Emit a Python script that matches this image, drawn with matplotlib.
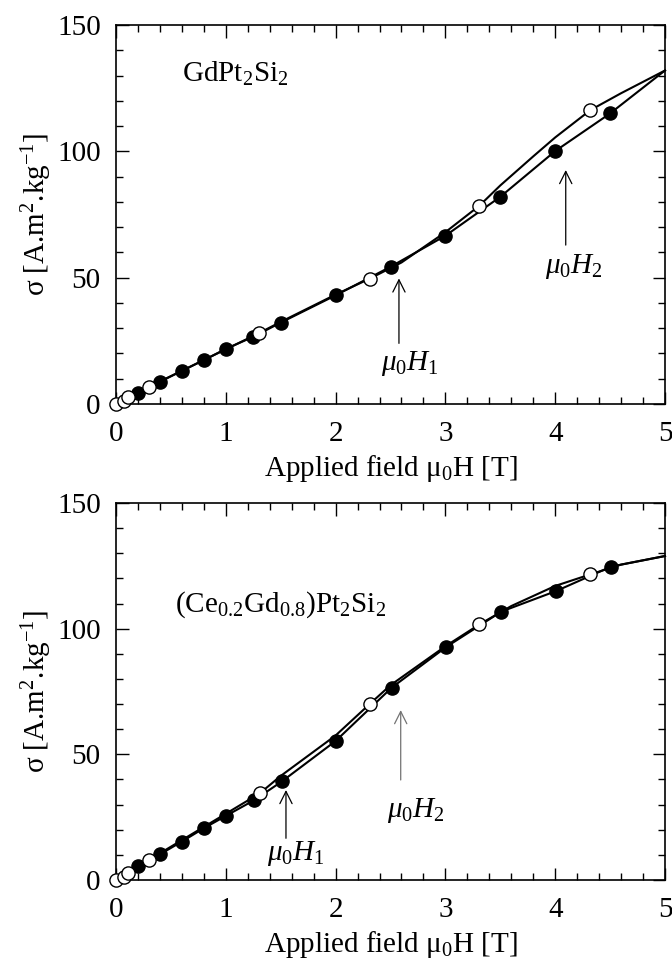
# -*- coding: utf-8 -*-

import numpy as np
import matplotlib
matplotlib.use('Agg')
import matplotlib.pyplot as plt
from matplotlib.ticker import MultipleLocator

plt.rcParams['font.family'] = ['Liberation Serif', 'DejaVu Serif']
plt.rcParams['mathtext.fontset'] = 'custom'
plt.rcParams['mathtext.rm'] = 'Liberation Serif'
plt.rcParams['mathtext.it'] = 'Liberation Serif:italic'
plt.rcParams['font.size'] = 21

# ---- GdPt2Si2 (top) ----
top_up_x = [0, 0.2, 0.4, 0.6, 0.8, 1.0, 1.25, 1.5, 2.0, 2.5, 3.0, 3.5, 4.0, 4.5, 5.0]
top_up_y = [0, 4.2, 8.8, 13.1, 17.4, 21.8, 26.6, 32.2, 43.0, 54.3, 66.6, 82.0, 100.1, 115.0, 132.0]
top_down_x = [5.0, 4.8, 4.6, 4.32, 4.0, 3.8, 3.5, 3.31, 3.0, 2.6, 2.31, 2.0, 1.5, 1.3, 0.3, 0.11, 0.07, 0.0]
top_down_y = [132.0, 127.5, 123.0, 116.3, 105.5, 98.0, 86.5, 78.5, 68.0, 56.0, 49.6, 43.3, 32.5, 28.0, 6.8, 2.9, 1.3, 0.0]
top_filled_x = [0.2, 0.4, 0.6, 0.8, 1.0, 1.25, 1.5, 2.0, 2.5, 3.0, 3.5, 4.0, 4.5]
top_filled_y = [4.2, 8.8, 13.1, 17.4, 21.8, 26.6, 32.2, 43.0, 54.3, 66.6, 82.0, 100.1, 115.0]
top_open_x = [0, 0.07, 0.11, 0.3, 1.3, 2.31, 3.31, 4.32]
top_open_y = [0, 1.3, 2.9, 6.8, 28.0, 49.6, 78.5, 116.3]

# ---- (Ce0.2Gd0.8)Pt2Si2 (bottom) ----
bot_up_x = [0, 0.2, 0.4, 0.6, 0.8, 1.0, 1.26, 1.51, 2.0, 2.51, 3.01, 3.51, 4.01, 4.51, 5.0]
bot_up_y = [0, 5.5, 10.2, 15.3, 20.6, 25.5, 31.8, 39.2, 55.3, 76.5, 92.8, 106.8, 115.0, 124.7, 128.9]
bot_down_x = [5.0, 4.6, 4.32, 4.0, 3.6, 3.31, 3.0, 2.5, 2.31, 2.0, 1.5, 1.31, 0.3, 0.11, 0.07, 0.0]
bot_down_y = [128.9, 125.5, 121.6, 117.0, 109.0, 101.7, 93.0, 77.5, 70.0, 57.5, 41.4, 34.5, 8.0, 2.6, 1.3, 0.0]
bot_filled_x = [0.2, 0.4, 0.6, 0.8, 1.0, 1.26, 1.51, 2.0, 2.51, 3.01, 3.51, 4.01, 4.51]
bot_filled_y = [5.5, 10.2, 15.3, 20.6, 25.5, 31.8, 39.2, 55.3, 76.5, 92.8, 106.8, 115.0, 124.7]
bot_open_x = [0, 0.07, 0.11, 0.3, 1.31, 2.31, 3.31, 4.32]
bot_open_y = [0, 1.3, 2.6, 8.0, 34.5, 70.0, 101.7, 121.6]

fig = plt.figure(figsize=(6.72, 9.63), dpi=100)
ax1 = fig.add_axes([116/672, 1-404/963, 549/672, 379/963])
ax2 = fig.add_axes([116/672, 1-880/963, 549/672, 377/963])


def style(ax):
    ax.set_xlim(0, 5)
    ax.set_ylim(0, 150)
    ax.xaxis.set_major_locator(MultipleLocator(1))
    ax.xaxis.set_minor_locator(MultipleLocator(0.2))
    ax.yaxis.set_major_locator(MultipleLocator(50))
    ax.yaxis.set_minor_locator(MultipleLocator(10))
    ax.tick_params(which='both', direction='in', top=True, right=True, width=1.0)
    ax.tick_params(which='major', length=9)
    ax.tick_params(which='minor', length=5)
    ax.tick_params(axis='x', which='major', pad=12.5)
    ax.tick_params(axis='y', which='major', pad=11)
    for s in ax.spines.values():
        s.set_linewidth(1.2)
    ax.set_xlabel('Applied field μ$_0$H [T]', labelpad=4)
    ax.set_ylabel('σ [A.m$^2$.kg$^{-1}$]', labelpad=2)


def draw(ax, ux, uy, dx, dy, fx, fy, ox, oy):
    ax.plot(ux, uy, color='black', lw=1.5, zorder=2, clip_on=False)
    ax.plot(dx, dy, color='black', lw=1.5, zorder=2, clip_on=False)
    ax.plot(fx, fy, 'o', color='black', ms=9.5, zorder=3, clip_on=False)
    ax.plot(ox, oy, 'o', mfc='white', mec='black', mew=1.0, ms=9.5, zorder=4, clip_on=False)


def arrow(ax, x, y0, y1, color='black'):
    ax.annotate('', xy=(x, y1), xytext=(x, y0),
                arrowprops=dict(arrowstyle='->', color=color, lw=0.9,
                                mutation_scale=22, shrinkA=0, shrinkB=0))


draw(ax1, top_up_x, top_up_y, top_down_x, top_down_y,
     top_filled_x, top_filled_y, top_open_x, top_open_y)
style(ax1)
ax1.text(0.6, 127.5, 'GdPt$_2$Si$_2$', ha='left', va='baseline')
arrow(ax1, 2.577, 24.0, 49.7)
ax1.text(2.68, 13.5, r'$\mu_0H_1$', ha='center', va='baseline')
arrow(ax1, 4.096, 62.9, 92.6)
ax1.text(4.17, 51.7, r'$\mu_0H_2$', ha='center', va='baseline')

draw(ax2, bot_up_x, bot_up_y, bot_down_x, bot_down_y,
     bot_filled_x, bot_filled_y, bot_open_x, bot_open_y)
style(ax2)
ax2.text(0.54, 106.8, '(Ce$_{0.2}$Gd$_{0.8}$)Pt$_2$Si$_2$', ha='left', va='baseline')
arrow(ax2, 1.548, 16.6, 35.8)
ax2.text(1.64, 8.0, r'$\mu_0H_1$', ha='center', va='baseline')
arrow(ax2, 2.593, 39.8, 67.6, color='0.45')
ax2.text(2.73, 25.2, r'$\mu_0H_2$', ha='center', va='baseline')

fig.savefig('out.png', dpi=100)
